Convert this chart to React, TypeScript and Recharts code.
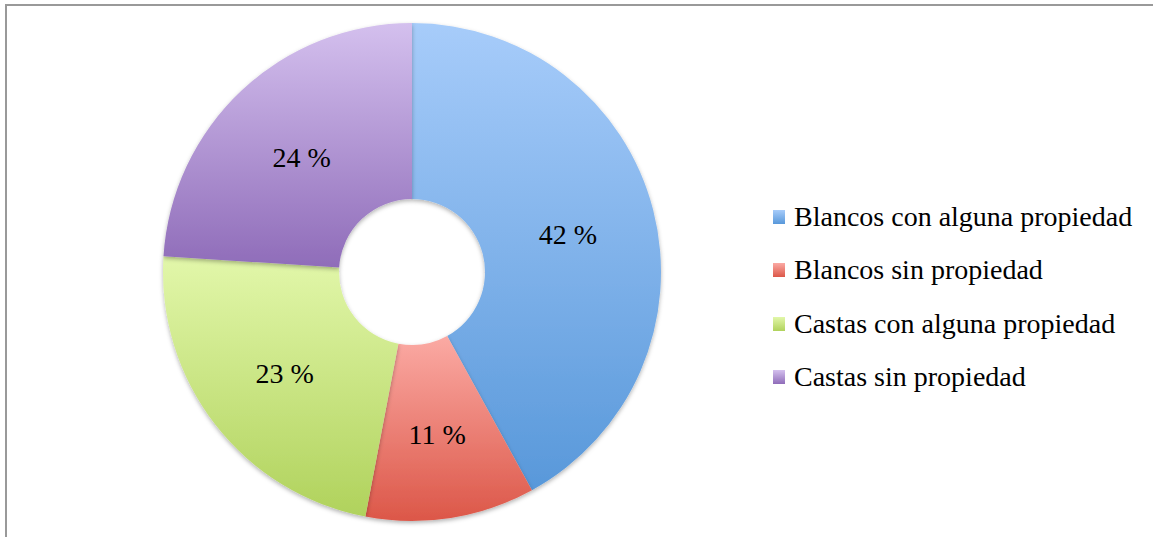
import React from "react";
import { PieChart, Pie, Cell, Legend } from "recharts";

const categories = [
  "Blancos con alguna propiedad",
  "Blancos sin propiedad",
  "Castas con alguna propiedad",
  "Castas sin propiedad",
];
const values = [42, 11, 23, 24];
const topColors = ["#a7ccfa", "#fbaaa4", "#e2f7aa", "#d4c0ee"];
const bottomColors = ["#5898da", "#dc5748", "#b0d25c", "#8f6cb9"];

const data = categories.map((name, i) => ({ name, value: values[i] }));

const FONT = "'Liberation Serif', 'Times New Roman', serif";
const RADIAN = Math.PI / 180;

const renderLabel = (props: any) => {
  const { cx, cy, midAngle, innerRadius, outerRadius, value } = props;
  const r = (innerRadius + outerRadius) / 2;
  const x = cx + r * Math.cos(-midAngle * RADIAN);
  const y = cy + r * Math.sin(-midAngle * RADIAN) + 3;
  return (
    <text
      x={x}
      y={y}
      textAnchor="middle"
      dominantBaseline="central"
      fontFamily={FONT}
      fontSize={28}
      fill="#000"
    >
      {`${value} %`}
    </text>
  );
};

const renderLegend = (props: any) => {
  const payload = props.payload || [];
  return (
    <div style={{ fontFamily: FONT, fontSize: 28, color: "#000" }}>
      {payload.map((entry: any, i: number) => (
        <div
          key={i}
          style={{ height: 53.5, display: "flex", alignItems: "center", whiteSpace: "nowrap" }}
        >
          <span
            style={{
              display: "inline-block",
              width: 12,
              height: 14,
              marginRight: 9,
              background: `linear-gradient(${topColors[i]}, ${bottomColors[i]})`,
            }}
          />
          <span>{entry.value}</span>
        </div>
      ))}
    </div>
  );
};

export default function App() {
  return (
    <div style={{ position: "absolute", left: 0, top: 0, width: 1153, height: 537, overflow: "hidden", background: "#fff" }}>
      <style>{`.recharts-pie-sector { filter: url(#pieShadow); }`}</style>
      <div
        style={{
          position: "absolute",
          left: 5,
          top: 4,
          width: 1160,
          height: 560,
          border: "2px solid #999",
          boxSizing: "border-box",
        }}
      />
      <div style={{ position: "absolute", left: 0, top: 0 }}>
        <PieChart width={1153} height={537} margin={{ top: 0, right: 0, bottom: 0, left: 0 }}>
          <defs>
            {topColors.map((c, i) => (
              <linearGradient key={i} id={`grad${i}`} x1="0" y1="0" x2="0" y2="1">
                <stop offset="0%" stopColor={c} />
                <stop offset="100%" stopColor={bottomColors[i]} />
              </linearGradient>
            ))}
            <filter id="pieShadow" x="-20%" y="-20%" width="140%" height="140%">
              <feDropShadow dx="0" dy="2" stdDeviation="2" floodColor="#000" floodOpacity="0.3" />
            </filter>
          </defs>
          <Pie
            data={data}
            dataKey="value"
            nameKey="name"
            cx={412}
            cy={272}
            innerRadius={73}
            outerRadius={249}
            startAngle={90}
            endAngle={-270}
            stroke="none"
            label={renderLabel}
            labelLine={false}
            isAnimationActive={false}
          >
            {data.map((_, i) => (
              <Cell key={i} fill={`url(#grad${i})`} />
            ))}
          </Pie>
          <Legend
            content={renderLegend}
            layout="vertical"
            wrapperStyle={{ position: "absolute", left: 773, top: 190, width: 380 }}
          />
        </PieChart>
      </div>
    </div>
  );
}
